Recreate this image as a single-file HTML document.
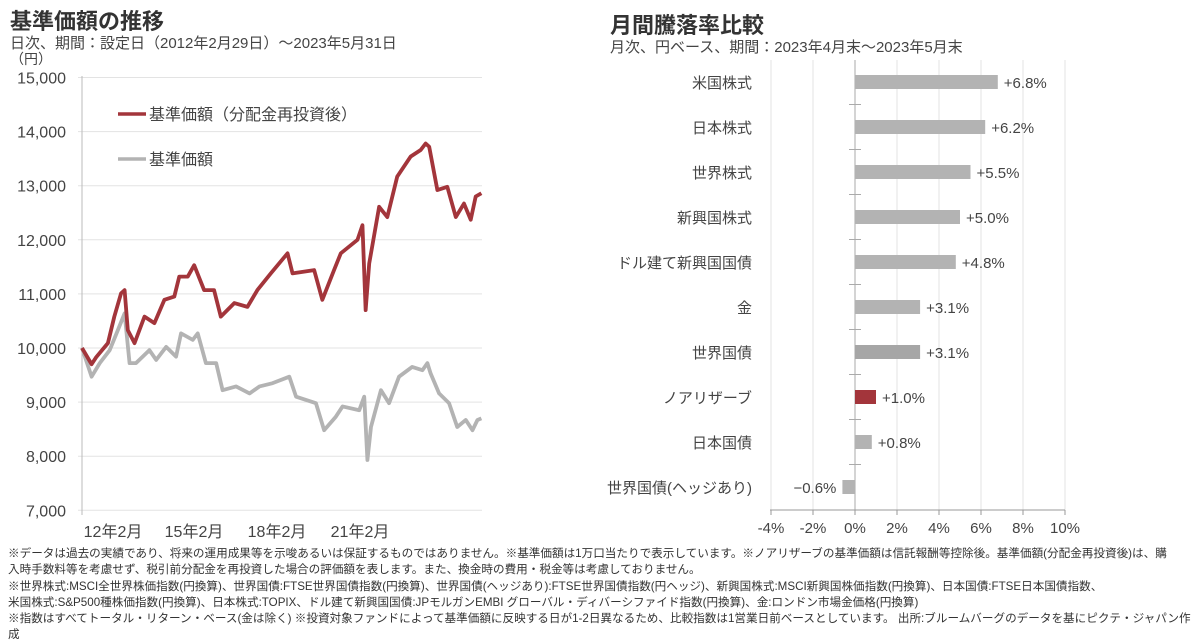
<!DOCTYPE html>
<html><head><meta charset="utf-8">
<style>
body{margin:0;background:#fff;width:1200px;height:640px;overflow:hidden;font-family:"Liberation Sans","Noto Sans CJK JP",sans-serif;color:#333}
.t{position:absolute;white-space:nowrap}
.note{position:absolute;left:8px;font-size:11.6px;line-height:16.3px;color:#333;white-space:nowrap;letter-spacing:0px}
</style></head><body>
<div class="t" style="left:10px;top:4px;font-size:22px;font-weight:bold;color:#333">基準価額の推移</div>
<div class="t" style="left:10px;top:32px;font-size:15px;color:#444">日次、期間：設定日（2012年2月29日）～2023年5月31日</div>
<div class="t" style="left:610px;top:8px;font-size:22px;font-weight:bold;color:#333">月間騰落率比較</div>
<div class="t" style="left:610px;top:36px;font-size:15px;color:#444">月次、円ベース、期間：2023年4月末～2023年5月末</div>
<svg id="c" width="1200" height="640" style="position:absolute;left:0;top:0"></svg>
<div class="note" style="top:546px">※データは過去の実績であり、将来の運用成果等を示唆あるいは保証するものではありません。※基準価額は1万口当たりで表示しています。※ノアリザーブの基準価額は信託報酬等控除後。基準価額(分配金再投資後)は、購<br>入時手数料等を考慮せず、税引前分配金を再投資した場合の評価額を表します。また、換金時の費用・税金等は考慮しておりません。<br>※世界株式:MSCI全世界株価指数(円換算)、世界国債:FTSE世界国債指数(円換算)、世界国債(ヘッジあり):FTSE世界国債指数(円ヘッジ)、新興国株式:MSCI新興国株価指数(円換算)、日本国債:FTSE日本国債指数、<br>米国株式:S&amp;P500種株価指数(円換算)、日本株式:TOPIX、ドル建て新興国国債:JPモルガンEMBI グローバル・ディバーシファイド指数(円換算)、金:ロンドン市場金価格(円換算)<br>※指数はすべてトータル・リターン・ベース(金は除く) ※投資対象ファンドによって基準価額に反映する日が1-2日異なるため、比較指数は1営業日前ベースとしています。 出所:ブルームバーグのデータを基にピクテ・ジャパン作<br>成</div>
<script>
// ---- left line chart data ----
const yTicks=[7000,8000,9000,10000,11000,12000,13000,14000,15000];
const xTickLabels=["12年2月","15年2月","18年2月","21年2月"];
const redDates=[2012.16,2012.43,2012.56,2012.89,2013.07,2013.26,2013.36,2013.45,2013.64,2013.92,2014.2,2014.48,2014.76,2014.9,2015.14,2015.32,2015.6,2015.88,2016.07,2016.45,2016.82,2017.1,2017.48,2017.95,2018.09,2018.7,2018.93,2019.26,2019.45,2019.92,2020.06,2020.15,2020.25,2020.53,2020.76,2021.04,2021.42,2021.7,2021.84,2021.94,2022.17,2022.45,2022.69,2022.92,2023.11,2023.25,2023.41];
const redVals=[10000,9700,9830,10090,10580,11010,11070,10330,10090,10580,10460,10890,10950,11320,11320,11530,11070,11070,10580,10830,10760,11070,11380,11750,11380,11440,10890,11440,11750,12000,12270,10700,11560,12610,12420,13170,13540,13660,13780,13720,12920,12980,12420,12670,12370,12800,12860];
const grayVals=[10000,9470,9720,9960,10330,10640,9720,9720,9960,9780,10020,9840,10270,10150,10270,9720,9720,9220,9290,9160,9290,9350,9470,9100,8980,8480,8730,8920,8850,9100,7930,8540,9220,8980,9470,9650,9590,9720,9530,9160,8980,8540,8670,8480,8670,8700];
const grayDates=[2012.16,2012.43,2012.66,2012.94,2013.17,2013.36,2013.5,2013.68,2014.06,2014.25,2014.53,2014.81,2014.95,2015.28,2015.42,2015.65,2015.94,2016.12,2016.5,2016.88,2017.16,2017.53,2018.0,2018.19,2018.75,2018.98,2019.31,2019.5,2019.97,2020.11,2020.2,2020.3,2020.58,2020.81,2021.09,2021.46,2021.75,2021.89,2021.98,2022.22,2022.5,2022.73,2022.97,2023.16,2023.3,2023.41];
// ---- right bar chart data ----
const cats=["米国株式","日本株式","世界株式","新興国株式","ドル建て新興国国債","金","世界国債","ノアリザーブ","日本国債","世界国債(ヘッジあり)"];
const rets=[6.8,6.2,5.5,5.0,4.8,3.1,3.1,1.0,0.8,-0.6];
const retLabels=["+6.8%","+6.2%","+5.5%","+5.0%","+4.8%","+3.1%","+3.1%","+1.0%","+0.8%","−0.6%"];
const xPctTicks=[-4,-2,0,2,4,6,8,10];

const NS="http://www.w3.org/2000/svg",svg=document.getElementById('c');
function mk(t,a,p){const e=document.createElementNS(NS,t);for(const k in a)e.setAttribute(k,a[k]);(p||svg).appendChild(e);return e;}
const yS=v=>348-(v-10000)*0.0541;
const xS=d=>82+(d-2012.16)*35.5;
yTicks.forEach(v=>{
  const g=mk('line',{x1:78,x2:482,y1:yS(v),y2:yS(v),stroke:'#e3e3e3','stroke-width':1});
  
  
  const t=mk('text',{x:66,y:yS(v)+6,'text-anchor':'end','font-size':16,fill:'#444'});
  t.textContent=v.toLocaleString('en-US');
  
  
});
mk('line',{x1:82,x2:82,y1:76,y2:515,stroke:'#bbb'});
const yu=mk('text',{x:10,y:64,'font-size':14,fill:'#444'});yu.textContent='（円）';


const xLabPos=[113,194,277,360];
xTickLabels.forEach((l,i)=>{
  const t=mk('text',{x:xLabPos[i],y:537,'text-anchor':'middle','font-size':16,fill:'#444'});t.textContent=l;
  
  
});
function line(ds,vs,col,name){
  const p=mk('polyline',{points:ds.map((d,i)=>xS(d)+','+yS(vs[i])).join(' '),fill:'none',stroke:col,'stroke-width':3.8,'stroke-linejoin':'round'});
  
  
}
line(grayDates,grayVals,'#b3b3b3','nav-line');
line(redDates,redVals,'#a3353b','nav-reinvested-line');
mk('line',{x1:118,x2:146,y1:114,y2:114,stroke:'#a3353b','stroke-width':3.5});
const l1=mk('text',{x:149,y:120,'font-size':16,fill:'#444'});l1.textContent='基準価額（分配金再投資後）';


mk('line',{x1:118,x2:146,y1:159,y2:159,stroke:'#b3b3b3','stroke-width':3.5});
const l2=mk('text',{x:149,y:165,'font-size':16,fill:'#444'});l2.textContent='基準価額';



// right chart
const pX=v=>855+v*21;
const rowY=i=>82+i*45;
xPctTicks.forEach(v=>{
  const g=mk('line',{x1:pX(v),x2:pX(v),y1:60,y2:510,stroke:v===0?'#aaa':'#e3e3e3'});
  
  
  mk('line',{x1:pX(v),x2:pX(v),y1:510,y2:515,stroke:'#999'});
  const t=mk('text',{x:pX(v),y:533,'text-anchor':'middle','font-size':15,fill:'#444'});
  t.textContent=v+'%';
  
  
});
mk('line',{x1:770,x2:1065,y1:510,y2:510,stroke:'#999'});
for(let i=1;i<cats.length;i++)mk('line',{x1:849,x2:861,y1:rowY(i)-22.5,y2:rowY(i)-22.5,stroke:'#aaa'});
cats.forEach((c,i)=>{
  const y=rowY(i),v=rets[i];
  const b=mk('rect',{x:Math.min(pX(0),pX(v)),y:y-7,width:Math.abs(pX(v)-pX(0)),height:14,fill:c==='ノアリザーブ'?'#a3353b':(c==='世界国債'?'#a6a6a6':'#b3b3b3')});
  
  
  const t=mk('text',{x:752,y:y+6,'text-anchor':'end','font-size':15,fill:'#444'});t.textContent=c;
  
  
  const vl=mk('text',{x:v>=0?pX(v)+6:pX(v)-6,y:y+6,'text-anchor':v>=0?'start':'end','font-size':15,fill:'#444'});vl.textContent=retLabels[i];
  
  
});
</script>
</body></html>
